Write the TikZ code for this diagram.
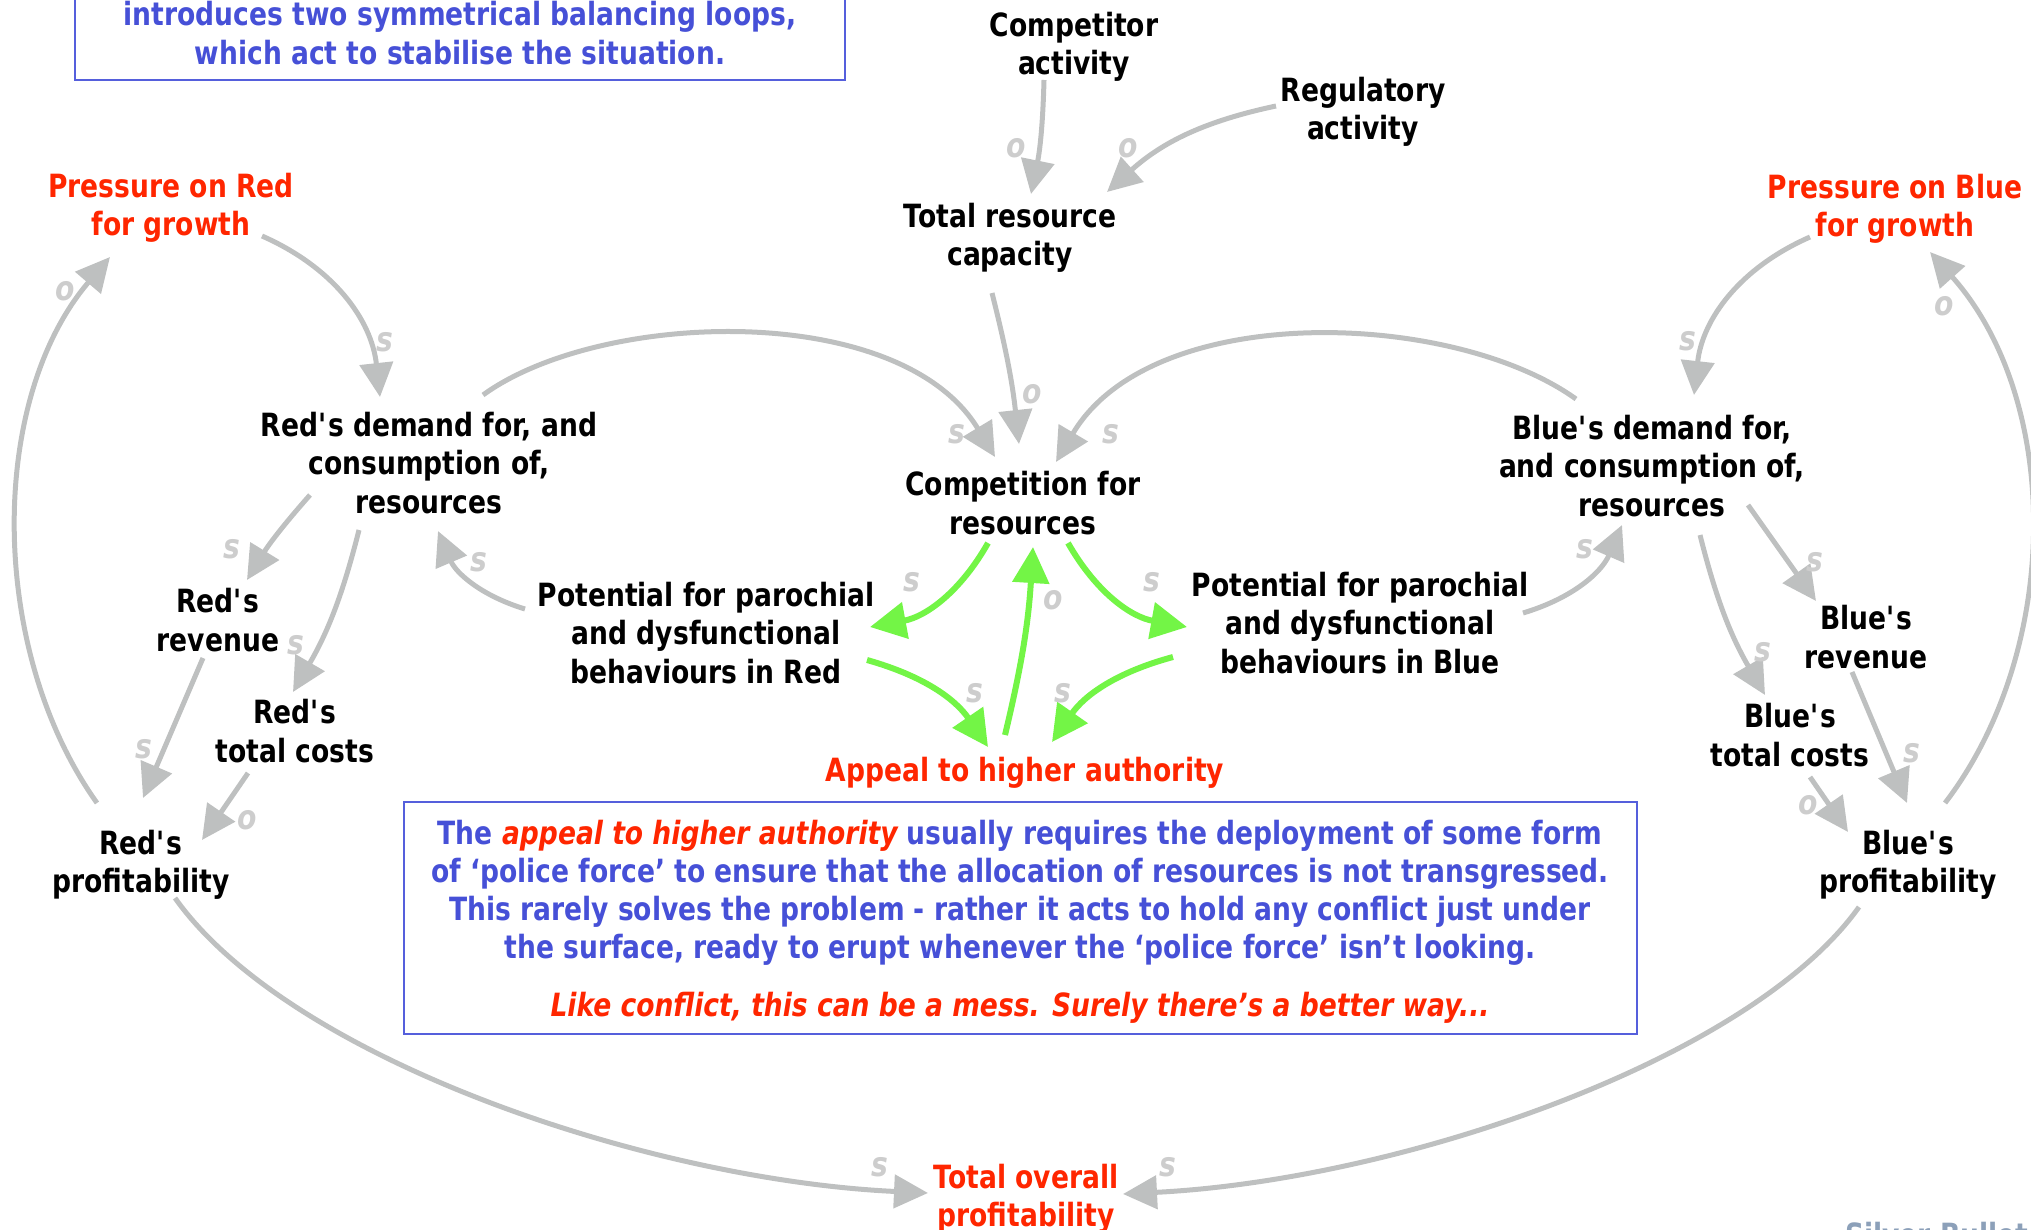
\documentclass[tikz,border=0pt]{standalone}
\usepackage{fontspec}
\setmainfont{DejaVu Sans}[FakeStretch=0.83]
\usetikzlibrary{arrows.meta}

\definecolor{inkred}{RGB}{255,38,0}
\definecolor{noteblue}{RGB}{70,80,215}
\definecolor{frameblue}{RGB}{85,95,220}
\definecolor{linkgray}{RGB}{190,192,192}
\definecolor{linkgreen}{RGB}{115,245,70}
\definecolor{polgray}{RGB}{205,205,205}
\definecolor{brandgray}{RGB}{140,160,185}

\newcommand{\apos}{\textquotesingle}

\begin{document}
\begin{tikzpicture}[x=1pt,y=-1pt,
  lbl/.style={font=\bfseries\fontsize{32}{38.3}\selectfont, align=center, inner sep=0pt},
  redlbl/.style={lbl, text=inkred},
  pol/.style={font=\bfseries\itshape\fontsize{34}{36}\selectfont, text=polgray, inner sep=0pt},
  link/.style={draw=linkgray, line width=5pt, -{Triangle[length=34pt,width=33pt]}},
  glink/.style={draw=linkgreen, line width=6pt, -{Triangle[length=36pt,width=36pt]}},
  notebox/.style={lbl, draw=frameblue, line width=2pt, text=noteblue},
  frame/.style={draw=frameblue, line width=2pt}
]
\useasboundingbox (0,0) rectangle (2031,1230);
\clip (0,0) rectangle (2031,1230);

% explanatory boxes
\node[lbl, text=noteblue] (intro) at (460,33)
  {introduces two symmetrical balancing loops,\\ which act to stabilise the situation.};
\draw[frame] (75,-60) rectangle (845,80);

\node[notebox, minimum width=1233pt, minimum height=232pt, text depth=0pt] (note) at (1020,918)
  {The \textcolor{inkred}{\itshape appeal to higher authority} usually requires the deployment of some form\\
   of ‘police force’ to ensure that the allocation of resources is not transgressed.\\
   This rarely solves the problem - rather it acts to hold any conflict just under\\
   the surface, ready to erupt whenever the ‘police force’ isn’t looking.\\[19pt]
   \textcolor{inkred}{\itshape Like conflict, this can be a mess. Surely there’s a better way...}};

% variables
\node[lbl] (compact) at (1074,47) {Competitor\\activity};
\node[lbl] (regact) at (1363,112) {Regulatory\\activity};
\node[lbl] (capacity) at (1010,238) {Total resource\\capacity};
\node[redlbl] (pressR) at (171,208) {Pressure on Red\\for growth};
\node[redlbl] (pressB) at (1895,209) {Pressure on Blue\\for growth};
\node[lbl] (demR) at (429,463) {Red\apos s demand for, and\\consumption of,\\resources};
\node[lbl] (comp) at (1023,503) {Competition for\\resources};
\node[lbl] (demB) at (1652,466) {Blue\apos s demand for,\\and consumption of,\\resources};
\node[lbl] (revR) at (218,620) {Red\apos s\\revenue};
\node[lbl] (costR) at (295,731) {Red\apos s\\total costs};
\node[lbl] (profR) at (141,865) {Red\apos s\\profitability};
\node[lbl] (potR) at (706,633) {Potential for parochial\\and dysfunctional\\behaviours in Red};
\node[lbl] (potB) at (1360,623) {Potential for parochial\\and dysfunctional\\behaviours in Blue};
\node[lbl] (revB) at (1866,637) {Blue\apos s\\revenue};
\node[lbl] (costB) at (1790,735) {Blue\apos s\\total costs};
\node[lbl] (profB) at (1908,865) {Blue\apos s\\profitability};
\node[redlbl] (appeal) at (1025,773) {Appeal to higher authority};
\node[redlbl] (total) at (1026,1199) {Total overall\\profitability};

\node[lbl, text=brandgray, anchor=base west] (brand) at (1845,1246) {Silver Bullet};

% grey causal links
\draw[link] ([shift={(-30,33)}]compact.center) to[bend left=5] ([shift={(21,-44)}]capacity.center);
\draw[link] ([shift={(-87,-6)}]regact.center) to[bend right=15] ([shift={(97,-46)}]capacity.center);
\draw[link] ([shift={(-18,55)}]capacity.center) to[bend left=4] ([shift={(-4,-59)}]comp.center);
\draw[link] ([shift={(54,-68)}]demR.center) .. controls (600,310) and (900,300) .. ([shift={(-28,-46)}]comp.center);
\draw[link] ([shift={(-76,-67)}]demB.center) .. controls (1452,310) and (1152,300) .. ([shift={(33,-41)}]comp.center);
\draw[link] ([shift={(91,28)}]pressR.center) to[bend left=30] ([shift={(-49,-66)}]demR.center);
\draw[link] ([shift={(-44,-62)}]profR.center) .. controls (-12,650) and (-12,400) .. ([shift={(-61,49)}]pressR.center);
\draw[link] ([shift={(-119,32)}]demR.center) to[bend right=5] ([shift={(29,-40)}]revR.center);
\draw[link] ([shift={(-70,67)}]demR.center) to[bend left=8] ([shift={(-2,-39)}]costR.center);
\draw[link] ([shift={(-15,38)}]revR.center) -- ([shift={(2,-67)}]profR.center);
\draw[link] ([shift={(-47,42)}]costR.center) -- ([shift={(61,-25)}]profR.center);
\draw[link] ([shift={(-181,-24)}]potR.center) to[bend left=25] ([shift={(9,68)}]demR.center);
\draw[link] ([shift={(163,-10)}]potB.center) to[bend right=25] ([shift={(-30,59)}]demB.center);
\draw[link] ([shift={(-85,28)}]pressB.center) to[bend right=30] ([shift={(42,-71)}]demB.center);
\draw[link] ([shift={(37,-62)}]profB.center) .. controls (2062,650) and (2062,400) .. ([shift={(35,43)}]pressB.center);
\draw[link] ([shift={(96,39)}]demB.center) -- ([shift={(-50,-36)}]revB.center);
\draw[link] ([shift={(48,69)}]demB.center) to[bend right=8] ([shift={(-25,-40)}]costB.center);
\draw[link] ([shift={(-14,35)}]revB.center) -- ([shift={(-1,-62)}]profB.center);
\draw[link] ([shift={(20,42)}]costB.center) -- ([shift={(-60,-33)}]profB.center);
\draw[link] ([shift={(34,33)}]profR.center) .. controls (290,1060) and (650,1180) .. ([shift={(-98,-6)}]total.center);
\draw[link] ([shift={(-49,42)}]profB.center) .. controls (1750,1060) and (1400,1180) .. ([shift={(97,-5)}]total.center);

% green balancing links
\draw[glink] ([shift={(-35,40)}]comp.center) to[bend left=25] ([shift={(164,-6)}]potR.center);
\draw[glink] ([shift={(45,40)}]comp.center) to[bend right=25] ([shift={(-173,4)}]potB.center);
\draw[glink] ([shift={(161,27)}]potR.center) to[bend left=20] ([shift={(-37,-26)}]appeal.center);
\draw[glink] ([shift={(-187,34)}]potB.center) to[bend right=20] ([shift={(27,-31)}]appeal.center);
\draw[glink] ([shift={(-20,-38)}]appeal.center) to[bend right=5] ([shift={(10,44)}]comp.center);

% link polarities
\node[pol] (pa) at (1016,148) {o};
\node[pol] (pb) at (1128,148) {o};
\node[pol] (pc) at (1032,394) {o};
\node[pol] (pd) at (957,434) {s};
\node[pol] (pe) at (1111,434) {s};
\node[pol] (pf) at (385,342) {s};
\node[pol] (pg) at (65,291) {o};
\node[pol] (ph) at (232,549) {s};
\node[pol] (pi) at (296,645) {s};
\node[pol] (pj) at (144,749) {s};
\node[pol] (pk) at (247,820) {o};
\node[pol] (pl) at (479,562) {s};
\node[pol] (pm) at (1585,549) {s};
\node[pol] (pn) at (1688,341) {s};
\node[pol] (po) at (1944,306) {o};
\node[pol] (pp) at (1815,562) {s};
\node[pol] (pq) at (1763,652) {s};
\node[pol] (pr) at (1912,753) {s};
\node[pol] (ps) at (1808,805) {o};
\node[pol] (pt) at (880,1167) {s};
\node[pol] (pu) at (1168,1167) {s};
\node[pol] (pv) at (912,582) {s};
\node[pol] (pw) at (1152,582) {s};
\node[pol] (px) at (975,693) {s};
\node[pol] (py) at (1063,693) {s};
\node[pol] (pz) at (1053,600) {o};
\end{tikzpicture}
\end{document}
